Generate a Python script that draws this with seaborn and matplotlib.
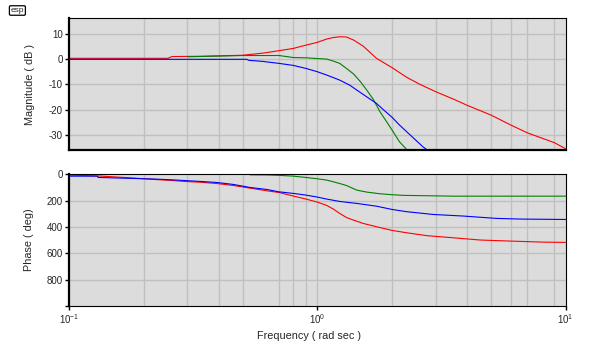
import numpy as np
import pandas as pd
import matplotlib
matplotlib.use("Agg")
import matplotlib.pyplot as plt
import seaborn as sns
from matplotlib.ticker import NullLocator

# ---------------- data ----------------
# Magnitude (dB)
mag_red_f = [0.1, 0.25, 0.26, 0.34, 0.5, 0.61, 0.7, 0.8, 0.9, 1.0, 1.09, 1.16, 1.23, 1.31,
             1.40, 1.53, 1.73, 2.0, 2.29, 2.59, 3.0, 3.53, 4.0, 5.0, 6.0, 7.0, 9.0, 10.0]
mag_red_v = [0.3, 0.3, 1.0, 1.1, 1.5, 2.4, 3.3, 4.2, 5.5, 6.6, 7.9, 8.5, 8.8, 8.7,
             7.5, 5.1, 0.3, -3.4, -7.2, -10.0, -12.9, -15.8, -18.2, -22.1, -26.0, -29.1, -33.0, -35.4]

mag_green_f = [0.3, 0.5, 0.7, 0.75, 0.8, 0.9, 1.0, 1.09, 1.16, 1.23, 1.31, 1.40, 1.49,
               1.58, 1.68, 1.79, 1.90, 2.02, 2.14, 2.29]
mag_green_v = [0.9, 1.4, 1.4, 1.0, 0.6, 0.5, 0.2, 0.0, -0.8, -1.7, -3.7, -5.9, -8.9,
               -12.2, -15.9, -20.9, -24.7, -28.7, -32.6, -35.7]

mag_blue_f = [0.1, 0.52, 0.53, 0.6, 0.7, 0.8, 0.9, 1.0, 1.09, 1.23, 1.35, 1.44, 1.58,
              1.73, 1.85, 2.0, 2.14, 2.29, 2.49, 2.66, 2.77]
mag_blue_v = [-0.1, -0.1, -0.5, -0.9, -1.7, -2.5, -3.7, -5.0, -6.3, -8.3, -10.3, -12.2, -14.9,
              -17.5, -20.1, -23.0, -26.0, -28.7, -32.0, -34.6, -35.9]

# Phase (deg)
ph_red_f = [0.1, 0.13, 0.17, 0.22, 0.26, 0.29, 0.337, 0.394, 0.459, 0.536, 0.625, 0.7, 0.8,
            0.9, 1.0, 1.09, 1.16, 1.23, 1.31, 1.40, 1.53, 1.73, 2.0, 2.29, 2.76, 3.53,
            4.52, 5.97, 8.13, 10.0]
ph_red_v = [6, 12, 25, 39, 47, 54, 60, 70, 85, 105, 125, 138, 165,
            188, 211, 236, 264, 297, 328, 348, 373, 398, 426, 444, 466, 482,
            499, 507, 515, 517]

ph_blue_f = [0.1, 0.13, 0.131, 0.17, 0.22, 0.26, 0.29, 0.337, 0.394, 0.459, 0.536, 0.625,
             0.7, 0.8, 0.9, 1.0, 1.09, 1.23, 1.44, 1.73, 2.0, 2.29, 2.93, 3.87, 5.28, 6.65, 10.0]
ph_blue_v = [14, 14, 24, 30, 36, 42, 47, 54, 62, 77, 100, 115,
             133, 145, 158, 173, 188, 206, 221, 242, 267, 284, 305, 317, 335, 340, 343]

ph_green_f = [0.536, 0.625, 0.7, 0.8, 0.9, 1.0, 1.09, 1.16, 1.23, 1.31, 1.44, 1.58, 1.79,
              2.0, 2.22, 3.53, 10.0]
ph_green_v = [4, 5, 8, 14, 24, 34, 44, 57, 70, 85, 120, 135, 148,
              155, 160, 166, 166]

mag_ticks = [10, 0, -10, -20, -30]
ph_ticks = [0, 200, 400, 600, 800, 1000]
ph_ticklabels = ["0", "200", "400", "600", "800", ""]
freq_ticks = [0.1, 1.0, 10.0]

# ---------------- frames ----------------
def frame(pairs):
    rows = []
    for name, f, v in pairs:
        rows.append(pd.DataFrame({"freq": f, "val": v, "curve": name}))
    return pd.concat(rows, ignore_index=True)

mag_df = frame([("red", mag_red_f, mag_red_v), ("green", mag_green_f, mag_green_v),
                ("blue", mag_blue_f, mag_blue_v)])
ph_df = frame([("red", ph_red_f, ph_red_v), ("green", ph_green_f, ph_green_v),
               ("blue", ph_blue_f, ph_blue_v)])

palette = {"red": "#ff0000", "green": "#008000", "blue": "#0000ff"}

sns.set_theme(style="white")
plt.rcParams["font.family"] = ["Liberation Sans", "DejaVu Sans"]
plt.rcParams["mathtext.fontset"] = "custom"
plt.rcParams["mathtext.rm"] = "Liberation Sans"
plt.rcParams["mathtext.it"] = "Liberation Sans"
plt.rcParams["axes.unicode_minus"] = False

fig = plt.figure(figsize=(6, 3.5), dpi=100)
ax1 = fig.add_axes([0.115, 0.5714, 0.8278, 0.3771])
ax2 = fig.add_axes([0.115, 0.1257, 0.8278, 0.3763])

grid_minor = [0.2, 0.3, 0.4, 0.5, 0.7, 0.8, 0.9, 1.0, 2, 3, 4, 5, 6, 7, 9]
gc = "#c0c0c0"

for ax in (ax1, ax2):
    ax.set_xscale("log")
    ax.set_facecolor("#dcdcdc")
    for g in grid_minor:
        ax.axvline(g, color=gc, lw=1.0, zorder=0)

sns.lineplot(data=mag_df, x="freq", y="val", hue="curve", palette=palette, ax=ax1,
             legend=False, estimator=None, sort=False, lw=0.8)
sns.lineplot(data=ph_df, x="freq", y="val", hue="curve", palette=palette, ax=ax2,
             legend=False, estimator=None, sort=False, lw=0.8)

# top axis
ax1.set_xlim(0.1, 10)
ax1.set_ylim(-35.9, 16.2)
ax1.set_yticks(mag_ticks)
ax1.set_yticklabels([str(t) for t in mag_ticks])
for t in mag_ticks:
    ax1.axhline(t, color=gc, lw=1.0, zorder=0)
ax1.xaxis.set_major_locator(NullLocator())
ax1.xaxis.set_minor_locator(NullLocator())
ax1.set_xlabel("")
ax1.set_ylabel("Magnitude ( dB )", fontsize=7.8)
ax1.yaxis.set_label_coords(-0.068, 0.5)

# bottom axis
ax2.set_xlim(0.1, 10)
ax2.set_ylim(1000, 0)
ax2.set_yticks(ph_ticks)
ax2.set_yticklabels(ph_ticklabels)
for t in [200, 400, 600, 800]:
    ax2.axhline(t, color=gc, lw=1.0, zorder=0)
ax2.set_xticks(freq_ticks)
ax2.set_xticklabels([r"$\mathdefault{10^{-1}}$", r"$\mathdefault{10^{0}}$",
                     r"$\mathdefault{10^{1}}$"])
ax2.xaxis.set_minor_locator(NullLocator())
ax2.set_xlabel("Frequency ( rad sec )", fontsize=7.8)
ax2.set_ylabel("Phase ( deg)", fontsize=7.8)
ax2.yaxis.set_label_coords(-0.07, 0.5)
ax2.xaxis.set_label_coords(0.483, -0.19)

for ax in (ax1, ax2):
    ax.tick_params(axis="both", which="major", length=3, width=1, color="black",
                   labelsize=7, pad=1.5, left=True, bottom=True)
    for s in ax.spines.values():
        s.set_color("black")
        s.set_linewidth(0.8)
    ax.spines["left"].set_linewidth(1.6)
ax1.spines["bottom"].set_linewidth(1.6)
ax1.tick_params(axis="x", length=0)

fig.text(0.029, 0.97, "esp", fontsize=6, ha="center", va="center",
         bbox=dict(boxstyle="round,pad=0.15", fc="white", ec="black", lw=0.9))

fig.savefig("out.png", dpi=100, facecolor="white")
